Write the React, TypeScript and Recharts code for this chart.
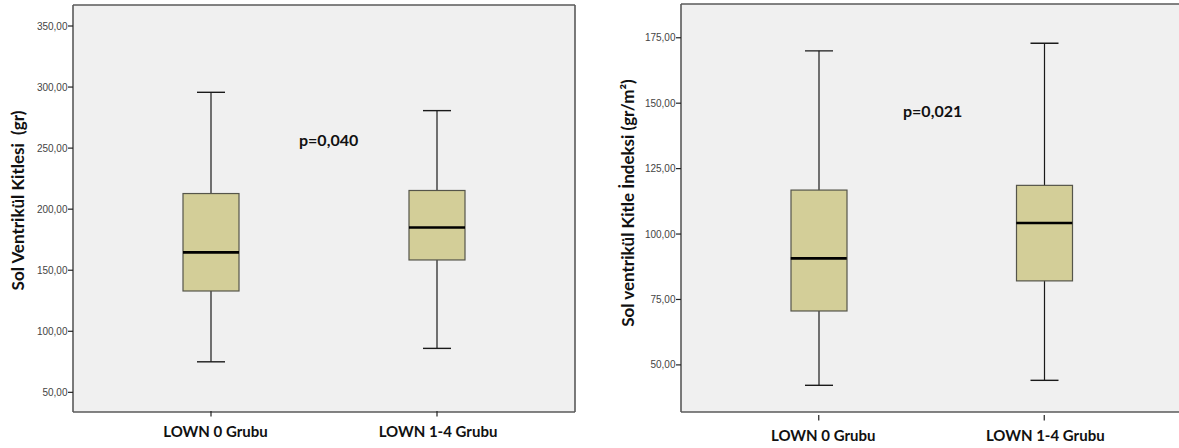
import React from "react";
import { ComposedChart, Bar, Line, XAxis, YAxis, CartesianGrid, Label } from "recharts";

// ---- data ----
const categories = ["LOWN 0 Grubu", "LOWN 1-4 Grubu"];

const lvmMin = [75, 86];
const lvmQ1 = [133, 158.4];
const lvmMedian = [164.6, 185];
const lvmQ3 = [212.8, 215.3];
const lvmMax = [295.7, 280.7];
const lvmTicks = [50, 100, 150, 200, 250, 300, 350];
const lvmDomain = [33.9, 367.2];
const lvmTitle = "Sol Ventrikül Kitlesi  (gr)";
const lvmP = "p=0,040";

const lvmiMin = [42.2, 44.1];
const lvmiQ1 = [70.6, 82.1];
const lvmiMedian = [90.7, 104.2];
const lvmiQ3 = [116.8, 118.6];
const lvmiMax = [170, 172.9];
const lvmiTicks = [50, 75, 100, 125, 150, 175];
const lvmiDomain = [32, 187.9];
const lvmiTitle = "Sol ventrikül Kitle İndeksi (gr/m²)";
const lvmiP = "p=0,021";

const buildRows = (mn: number[], q1: number[], md: number[], q3: number[], mx: number[]) =>
  categories.map((name, i) => ({ name, min: mn[i], q1: q1[i], median: md[i], q3: q3[i], max: mx[i] }));

const lvmRows = buildRows(lvmMin, lvmQ1, lvmMedian, lvmQ3, lvmMax);
const lvmiRows = buildRows(lvmiMin, lvmiQ1, lvmiMedian, lvmiQ3, lvmiMax);

// ---- styles ----
const FRAME = "#5a5a5a";
const BG = "#f0f0f0";
const BOX_FILL = "#d3ce98";
const BOX_STROKE = "#55554a";
const BOLD_FONT = "Lato, 'Open Sans', sans-serif";
const TICK_FONT = "'Liberation Sans', Arial, sans-serif";
const CHART_H = 448;
const X_AXIS_H = 30;

const fmt = (v: number) => v.toFixed(2).replace(".", ",");

const WhiskerShape = (props: any) => {
  const { x, y, width, height } = props;
  const top = Math.min(y, y + height);
  const bottom = Math.max(y, y + height);
  const cx = x + width / 2;
  return (
    <g>
      <line x1={cx} x2={cx} y1={top} y2={bottom} stroke="#1a1a1a" strokeWidth={1.2} />
      <line x1={x} x2={x + width} y1={top} y2={top} stroke="#1a1a1a" strokeWidth={1.4} />
      <line x1={x} x2={x + width} y1={bottom} y2={bottom} stroke="#1a1a1a" strokeWidth={1.4} />
    </g>
  );
};

const BoxShape = (props: any) => {
  const { x, y, width, height } = props;
  const top = Math.min(y, y + height);
  const h = Math.abs(height);
  return <rect x={x} y={top} width={width} height={h} fill={BOX_FILL} stroke={BOX_STROKE} strokeWidth={1.2} />;
};

const medianDot = (props: any) => {
  const { cx, cy, index } = props;
  return <line key={`md-${index}`} x1={cx - 28} x2={cx + 28} y1={cy} y2={cy} stroke="#000" strokeWidth={2.6} />;
};

const XTick = (baseline: number) => (props: any) => {
  const { x, payload, index } = props;
  const dx = index === 0 ? 4.5 : 1;
  return (
    <g>
      <line x1={x} x2={x} y1={baseline - 26} y2={baseline - 20.5} stroke="#222" strokeWidth={1.2} />
      <text x={x + dx} y={baseline} textAnchor="middle" fontFamily={BOLD_FONT} fontWeight={700} fontSize={15} fill="#111">
        {payload.value}
      </text>
    </g>
  );
};

const YTick = (props: any) => {
  const { x, y, payload } = props;
  return (
    <g>
      <line x1={x + 3} x2={x + 8} y1={y} y2={y} stroke="#222" strokeWidth={1.2} />
      <text x={x + 2.5} y={y} dy={3.6} textAnchor="end" fontFamily={TICK_FONT} fontSize={10} fill="#444">
        {fmt(payload.value)}
      </text>
    </g>
  );
};

type PanelProps = {
  rows: any[];
  domain: number[];
  ticks: number[];
  title: string;
  width: number;
  margin: { top: number; right: number; bottom: number; left: number };
  yAxisWidth: number;
  titleDx: number;
  titleDy: number;
  xBaseline: number;
  rightBorder: boolean;
};

const Panel = ({ rows, domain, ticks, title, width, margin, yAxisWidth, titleDx, titleDy, xBaseline, rightBorder }: PanelProps) => {
  const pad = { left: 25, right: 25 };
  const plotLeft = margin.left + yAxisWidth;
  const plotRight = width - margin.right;
  const plotTop = margin.top;
  const plotBottom = CHART_H - margin.bottom - X_AXIS_H;
  return (
    <ComposedChart width={width} height={CHART_H} data={rows} margin={margin}>
      <CartesianGrid
        xAxisId="main"
        x={plotLeft}
        y={plotTop}
        width={plotRight - plotLeft}
        height={plotBottom - plotTop}
        fill={BG}
        stroke={FRAME}
        strokeWidth={1.6}
        horizontalCoordinatesGenerator={() => [plotTop, plotBottom]}
        verticalCoordinatesGenerator={() => (rightBorder ? [plotLeft, plotRight] : [plotLeft])}
      />
      <XAxis
        xAxisId="main"
        dataKey="name"
        type="category"
        padding={pad}
        height={X_AXIS_H}
        axisLine={false}
        tickLine={false}
        tick={XTick(xBaseline)}
        interval={0}
      />
      <XAxis xAxisId="box" dataKey="name" type="category" padding={pad} hide />
      <XAxis xAxisId="med" dataKey="name" type="category" padding={pad} hide />
      <YAxis
        type="number"
        domain={domain}
        ticks={ticks}
        allowDataOverflow
        width={yAxisWidth}
        axisLine={false}
        tickLine={false}
        tickSize={5}
        tickMargin={3}
        tick={YTick}
      >
        <Label
          content={(p: any) => {
            const vb = p.viewBox || { x: 0, y: 0, width: 0, height: 0 };
            const cx = vb.x + titleDx;
            const cy = vb.y + vb.height / 2 + titleDy;
            return (
              <text
                x={cx}
                y={cy}
                transform={`rotate(-90 ${cx} ${cy})`}
                textAnchor="middle"
                dominantBaseline="central"
                fontFamily={BOLD_FONT}
                fontWeight={700}
                fontSize={17}
                fill="#111"
                style={{ whiteSpace: "pre" }}
              >
                {title}
              </text>
            );
          }}
        />
      </YAxis>
      <Bar
        xAxisId="main"
        dataKey={(d: any) => [d.min, d.max]}
        barSize={28}
        shape={WhiskerShape}
        isAnimationActive={false}
      />
      <Bar
        xAxisId="box"
        dataKey={(d: any) => [d.q1, d.q3]}
        barSize={56}
        shape={BoxShape}
        isAnimationActive={false}
      />
      <Line
        xAxisId="med"
        dataKey="median"
        stroke="none"
        dot={medianDot}
        activeDot={false}
        isAnimationActive={false}
      />
    </ComposedChart>
  );
};

const pStyle: React.CSSProperties = {
  position: "absolute",
  fontFamily: BOLD_FONT,
  fontWeight: 700,
  fontSize: 16,
  lineHeight: "16px",
  color: "#111",
  whiteSpace: "nowrap",
};

export default function App() {
  return (
    <div style={{ position: "relative", width: 1179, height: 448, overflow: "hidden", background: "#fff" }}>
      <style>{"html,body{margin:0;padding:0;overflow:hidden;background:#fff}"}</style>
      <div style={{ position: "absolute", left: 0, top: 0, width: 590, height: 448 }}>
        <Panel
          rows={lvmRows}
          domain={lvmDomain}
          ticks={lvmTicks}
          title={lvmTitle}
          width={590}
          margin={{ top: 5, right: 15, bottom: 6, left: 10 }}
          yAxisWidth={63}
          titleDx={7}
          titleDy={-8}
          xBaseline={437}
          rightBorder={true}
        />
      </div>
      <div style={{ position: "absolute", left: 590, top: 0, width: 589, height: 448, overflow: "hidden" }}>
        <Panel
          rows={lvmiRows}
          domain={lvmiDomain}
          ticks={lvmiTicks}
          title={lvmiTitle}
          width={589}
          margin={{ top: 4, right: -3, bottom: 6, left: 27 }}
          yAxisWidth={64}
          titleDx={10}
          titleDy={-5}
          xBaseline={441}
          rightBorder={false}
        />
      </div>
      <div style={{ ...pStyle, left: 299, top: 132 }}>{lvmP}</div>
      <div style={{ ...pStyle, left: 903, top: 103 }}>{lvmiP}</div>
    </div>
  );
}
